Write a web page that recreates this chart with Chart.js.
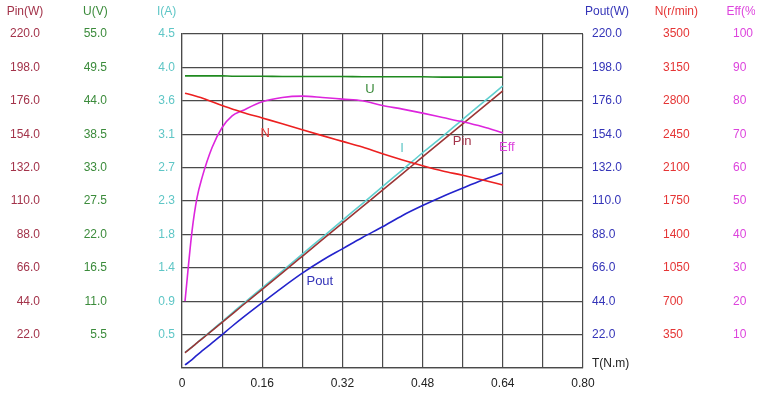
<!DOCTYPE html>
<html>
<head>
<meta charset="utf-8">
<script src="https://cdn.jsdelivr.net/npm/chart.js@4.4.0/dist/chart.umd.min.js"></script>
<style>
  html, body { margin: 0; padding: 0; background: #fff; }
  canvas { display: block; }
</style>
</head>
<body>
<canvas id="c" width="770" height="395"></canvas>
<script>
// torque points (N.m) and the measured curves
const torque = [0.006, 0.02, 0.03, 0.04, 0.06, 0.08, 0.10, 0.12, 0.16, 0.20, 0.24, 0.28, 0.32, 0.36, 0.40, 0.44, 0.48, 0.52, 0.56, 0.60, 0.64];
const pinW   = [10.0, 13.7, 16.5, 19.2, 24.6, 30.0, 35.5, 41.0, 51.8, 62.7, 73.6, 84.5, 95.4, 106.3, 117.2, 128.1, 139.0, 149.9, 160.8, 171.6, 182.5];
const voltV  = [48.1, 48.1, 48.1, 48.1, 48.1, 48.1, 48.05, 48.05, 48.05, 48.0, 48.0, 48.0, 48.0, 47.95, 47.95, 47.95, 47.95, 47.9, 47.9, 47.9, 47.9];
const currA  = [0.21, 0.285, 0.34, 0.40, 0.51, 0.625, 0.74, 0.855, 1.08, 1.305, 1.535, 1.76, 1.99, 2.215, 2.445, 2.67, 2.90, 3.12, 3.35, 3.575, 3.80];
const poutW  = [2.0, 5.5, 8.5, 11.2, 16.5, 22.0, 27.5, 32.8, 43.0, 53.0, 62.5, 71.0, 78.5, 86.0, 93.0, 100.5, 107.0, 113.0, 118.5, 123.8, 128.6];
const speedN = [2880, 2860, 2845, 2830, 2790, 2750, 2715, 2680, 2620, 2560, 2497, 2435, 2375, 2315, 2245, 2180, 2120, 2065, 2020, 1970, 1918];
const effPct = [20, 41, 51, 57, 66, 72, 75.5, 77, 79.7, 81, 81.4, 81, 80.5, 80, 78.6, 77.5, 76.3, 75, 73.7, 72.2, 70.4];

// tick labels
const xTicks    = ['0', '', '0.16', '', '0.32', '', '0.48', '', '0.64', '', '0.80'];
const pinTicks  = ['', '22.0', '44.0', '66.0', '88.0', '110.0', '132.0', '154.0', '176.0', '198.0', '220.0'];
const uTicks    = ['', '5.5', '11.0', '16.5', '22.0', '27.5', '33.0', '38.5', '44.0', '49.5', '55.0'];
const iTicks    = ['', '0.5', '0.9', '1.4', '1.8', '2.3', '2.7', '3.1', '3.6', '4.0', '4.5'];
const poutTicks = ['', '22.0', '44.0', '66.0', '88.0', '110.0', '132.0', '154.0', '176.0', '198.0', '220.0'];
const nTicks    = ['', '350', '700', '1050', '1400', '1750', '2100', '2450', '2800', '3150', '3500'];
const effTicks  = ['', '10', '20', '30', '40', '50', '60', '70', '80', '90', '100'];

const FONT = 'Liberation Sans, Arial, sans-serif';
const GRID = '#4a4a4a';

const col = {
  pin:  { line: '#9b3535', text: '#a3334a' },
  u:    { line: '#1f8a1f', text: '#3b8b3b' },
  i:    { line: '#5fcfcf', text: '#5ec6c6' },
  pout: { line: '#2323cc', text: '#3434b8' },
  n:    { line: '#ec2020', text: '#e53535' },
  eff:  { line: '#dd25dd', text: '#dd44dd' }
};

// in-plot curve names: position given on the curve's own axis
const curveNames = [
  { text: 'U',    axis: 'yU',    x: 0.375, y: 45.8, color: col.u.text },
  { text: 'N',    axis: 'yN',    x: 0.166, y: 2463, color: col.n.text },
  { text: 'I',    axis: 'yI',    x: 0.439, y: 2.96, color: col.i.text },
  { text: 'Pin',  axis: 'yPin',  x: 0.559, y: 149.5, color: col.pin.text },
  { text: 'Eff',  axis: 'yEff',  x: 0.648, y: 65.9, color: col.eff.text },
  { text: 'Pout', axis: 'yPout', x: 0.275, y: 57.3, color: col.pout.text }
];

const axisTitles = { yPin: 'Pin(W)', yU: 'U(V)', yI: 'I(A)', yPout: 'Pout(W)', yN: 'N(r/min)', yEff: 'Eff(%)' };

// no automatic label overhang padding, sizes are fixed by hand
function noPad(s) {
  s.paddingTop = 0; s.paddingBottom = 0; s.paddingLeft = 0; s.paddingRight = 0;
}

function yAxis(pos, weight, max, labels, color, width, pad, withGrid) {
  return {
    type: 'linear', position: pos, weight: weight,
    min: 0, max: max,
    afterFit: s => { s.width = width; noPad(s); },
    afterBuildTicks: s => { s.ticks = labels.map((_, i) => ({ value: max * i / 10 })); },
    ticks: {
      color: color, padding: pad, autoSkip: false,
      font: { family: FONT, size: 12 },
      callback: (v, i) => labels[i]
    },
    grid: withGrid ? { color: GRID, lineWidth: 1.2, drawTicks: false } : { display: false, drawTicks: false },
    border: withGrid ? { display: true, color: GRID, width: 1.2 } : { display: false }
  };
}

function series(vals, axis, color) {
  return {
    data: torque.map((t, i) => ({ x: t, y: vals[i] })),
    yAxisID: axis, borderColor: color, borderWidth: 1.6,
    pointRadius: 0, fill: false, cubicInterpolationMode: 'monotone'
  };
}

const textPlugin = {
  id: 'texts',
  afterDraw(chart) {
    const ctx = chart.ctx;
    ctx.save();
    ctx.font = '12px ' + FONT;
    ctx.textBaseline = 'middle';
    ctx.textAlign = 'center';
    ctx.beginPath();
    ctx.rect(0, 0, 755, 395);
    ctx.clip();
    Object.keys(axisTitles).forEach(id => {
      const s = chart.scales[id];
      const pad = s.options.ticks.padding;
      const labels = s.ticks.map(t => t.label);
      const w = Math.max(...labels.map(l => ctx.measureText(l).width));
      const cx = s.position === 'left' ? s.right - pad - w / 2 : s.left + pad + w / 2;
      ctx.fillStyle = s.options.ticks.color;
      ctx.fillText(axisTitles[id], cx, 12);
    });
    const xs = chart.scales.x;
    ctx.textAlign = 'left';
    ctx.fillStyle = '#222';
    ctx.fillText('T(N.m)', xs.right + 9, xs.top - 4);
    ctx.restore();

    ctx.save();
    ctx.font = '13px ' + FONT;
    ctx.textAlign = 'center';
    ctx.textBaseline = 'middle';
    curveNames.forEach(c => {
      ctx.fillStyle = c.color;
      ctx.fillText(c.text, xs.getPixelForValue(c.x), chart.scales[c.axis].getPixelForValue(c.y));
    });
    ctx.restore();
  }
};

new Chart(document.getElementById('c'), {
  type: 'line',
  data: {
    datasets: [
      series(voltV, 'yU', col.u.line),
      series(speedN, 'yN', col.n.line),
      series(effPct, 'yEff', col.eff.line),
      series(poutW, 'yPout', col.pout.line),
      series(pinW, 'yPin', col.pin.line),
      series(currA, 'yI', col.i.line)
    ]
  },
  options: {
    responsive: false,
    animation: false,
    layout: { padding: { top: 34, left: 0, right: 0, bottom: 0 } },
    plugins: { legend: { display: false }, tooltip: { enabled: false } },
    scales: {
      x: {
        type: 'linear', position: 'bottom', min: 0, max: 0.8,
        afterFit: s => { s.height = 27; noPad(s); },
        afterBuildTicks: s => { s.ticks = xTicks.map((_, i) => ({ value: 0.08 * i })); },
        ticks: {
          color: '#222', padding: 8, autoSkip: false, maxRotation: 0,
          font: { family: FONT, size: 12 },
          callback: (v, i) => xTicks[i]
        },
        grid: { color: GRID, lineWidth: 1.2, drawTicks: false },
        border: { display: true, color: GRID, width: 1.2 }
      },
      yPin:  yAxis('left', 3, 220, pinTicks, col.pin.text, 65, 25, false),
      yU:    yAxis('left', 2, 55, uTicks, col.u.text, 70, 28, false),
      yI:    yAxis('left', 1, 4.5, iTicks, col.i.text, 47, 7, true),
      yPout: yAxis('right', 1, 220, poutTicks, col.pout.text, 67, 9, false),
      yN:    yAxis('right', 2, 3500, nTicks, col.n.text, 70, 13, false),
      yEff:  yAxis('right', 3, 100, effTicks, col.eff.text, 50, 13, false)
    }
  },
  plugins: [textPlugin]
});
</script>
</body>
</html>
